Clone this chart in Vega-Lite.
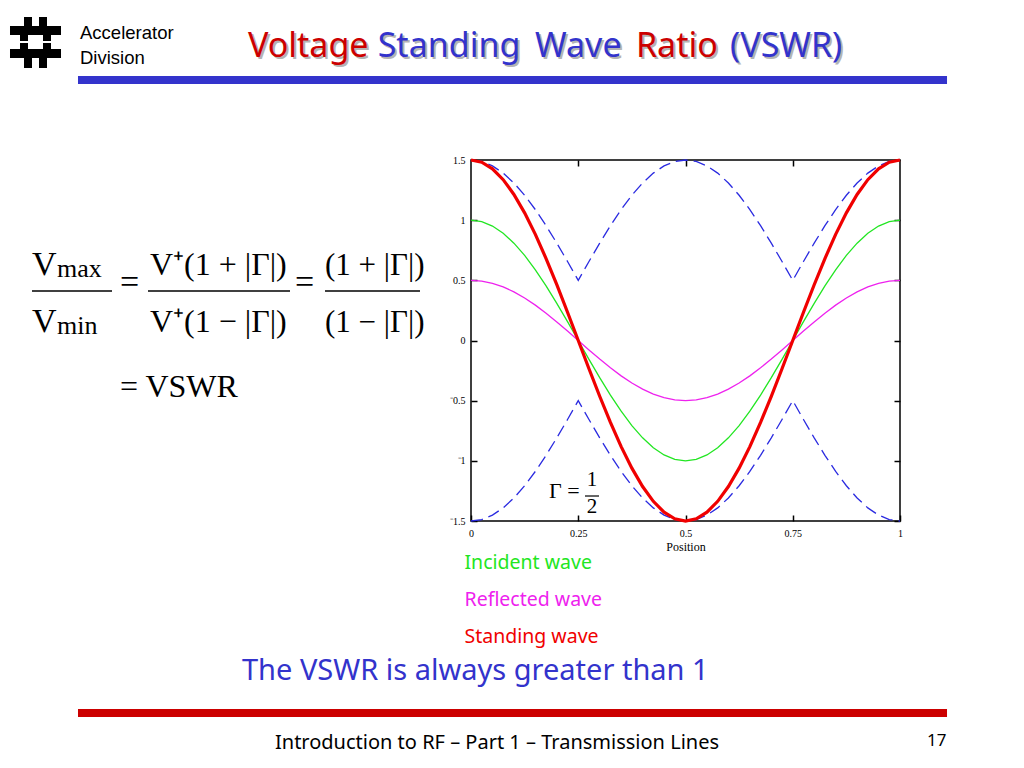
{
  "$schema": "https://vega.github.io/schema/vega-lite/v6.json",
  "autosize": {"type": "none"},
  "width": 429,
  "height": 361,
  "padding": {"left": 471, "top": 160, "right": 124, "bottom": 247},
  "background": "white",
  "config": {
    "view": {"stroke": "black", "strokeWidth": 1.5},
    "axis": {"grid": false, "domain": false}
  },
  "datasets": {
    "one": [{}],
    "waves": [
      {"x": 0, "inc": 1, "ref": 0.5, "sta": 1.5, "up": 1.5, "lo": -1.5},
      {"x": 0.025, "inc": 0.9877, "ref": 0.4938, "sta": 1.4815, "up": 1.4877, "lo": -1.4877},
      {"x": 0.05, "inc": 0.9511, "ref": 0.4755, "sta": 1.4266, "up": 1.4511, "lo": -1.4511},
      {"x": 0.075, "inc": 0.891, "ref": 0.4455, "sta": 1.3365, "up": 1.391, "lo": -1.391},
      {"x": 0.1, "inc": 0.809, "ref": 0.4045, "sta": 1.2135, "up": 1.309, "lo": -1.309},
      {"x": 0.125, "inc": 0.7071, "ref": 0.3536, "sta": 1.0607, "up": 1.2071, "lo": -1.2071},
      {"x": 0.15, "inc": 0.5878, "ref": 0.2939, "sta": 0.8817, "up": 1.0878, "lo": -1.0878},
      {"x": 0.175, "inc": 0.454, "ref": 0.227, "sta": 0.681, "up": 0.954, "lo": -0.954},
      {"x": 0.2, "inc": 0.309, "ref": 0.1545, "sta": 0.4635, "up": 0.809, "lo": -0.809},
      {"x": 0.225, "inc": 0.1564, "ref": 0.0782, "sta": 0.2347, "up": 0.6564, "lo": -0.6564},
      {"x": 0.25, "inc": 0, "ref": 0, "sta": 0, "up": 0.5, "lo": -0.5},
      {"x": 0.275, "inc": -0.1564, "ref": -0.0782, "sta": -0.2347, "up": 0.6564, "lo": -0.6564},
      {"x": 0.3, "inc": -0.309, "ref": -0.1545, "sta": -0.4635, "up": 0.809, "lo": -0.809},
      {"x": 0.325, "inc": -0.454, "ref": -0.227, "sta": -0.681, "up": 0.954, "lo": -0.954},
      {"x": 0.35, "inc": -0.5878, "ref": -0.2939, "sta": -0.8817, "up": 1.0878, "lo": -1.0878},
      {"x": 0.375, "inc": -0.7071, "ref": -0.3536, "sta": -1.0607, "up": 1.2071, "lo": -1.2071},
      {"x": 0.4, "inc": -0.809, "ref": -0.4045, "sta": -1.2135, "up": 1.309, "lo": -1.309},
      {"x": 0.425, "inc": -0.891, "ref": -0.4455, "sta": -1.3365, "up": 1.391, "lo": -1.391},
      {"x": 0.45, "inc": -0.9511, "ref": -0.4755, "sta": -1.4266, "up": 1.4511, "lo": -1.4511},
      {"x": 0.475, "inc": -0.9877, "ref": -0.4938, "sta": -1.4815, "up": 1.4877, "lo": -1.4877},
      {"x": 0.5, "inc": -1, "ref": -0.5, "sta": -1.5, "up": 1.5, "lo": -1.5},
      {"x": 0.525, "inc": -0.9877, "ref": -0.4938, "sta": -1.4815, "up": 1.4877, "lo": -1.4877},
      {"x": 0.55, "inc": -0.9511, "ref": -0.4755, "sta": -1.4266, "up": 1.4511, "lo": -1.4511},
      {"x": 0.575, "inc": -0.891, "ref": -0.4455, "sta": -1.3365, "up": 1.391, "lo": -1.391},
      {"x": 0.6, "inc": -0.809, "ref": -0.4045, "sta": -1.2135, "up": 1.309, "lo": -1.309},
      {"x": 0.625, "inc": -0.7071, "ref": -0.3536, "sta": -1.0607, "up": 1.2071, "lo": -1.2071},
      {"x": 0.65, "inc": -0.5878, "ref": -0.2939, "sta": -0.8817, "up": 1.0878, "lo": -1.0878},
      {"x": 0.675, "inc": -0.454, "ref": -0.227, "sta": -0.681, "up": 0.954, "lo": -0.954},
      {"x": 0.7, "inc": -0.309, "ref": -0.1545, "sta": -0.4635, "up": 0.809, "lo": -0.809},
      {"x": 0.725, "inc": -0.1564, "ref": -0.0782, "sta": -0.2347, "up": 0.6564, "lo": -0.6564},
      {"x": 0.75, "inc": 0, "ref": 0, "sta": 0, "up": 0.5, "lo": -0.5},
      {"x": 0.775, "inc": 0.1564, "ref": 0.0782, "sta": 0.2347, "up": 0.6564, "lo": -0.6564},
      {"x": 0.8, "inc": 0.309, "ref": 0.1545, "sta": 0.4635, "up": 0.809, "lo": -0.809},
      {"x": 0.825, "inc": 0.454, "ref": 0.227, "sta": 0.681, "up": 0.954, "lo": -0.954},
      {"x": 0.85, "inc": 0.5878, "ref": 0.2939, "sta": 0.8817, "up": 1.0878, "lo": -1.0878},
      {"x": 0.875, "inc": 0.7071, "ref": 0.3536, "sta": 1.0607, "up": 1.2071, "lo": -1.2071},
      {"x": 0.9, "inc": 0.809, "ref": 0.4045, "sta": 1.2135, "up": 1.309, "lo": -1.309},
      {"x": 0.925, "inc": 0.891, "ref": 0.4455, "sta": 1.3365, "up": 1.391, "lo": -1.391},
      {"x": 0.95, "inc": 0.9511, "ref": 0.4755, "sta": 1.4266, "up": 1.4511, "lo": -1.4511},
      {"x": 0.975, "inc": 0.9877, "ref": 0.4938, "sta": 1.4815, "up": 1.4877, "lo": -1.4877},
      {"x": 1, "inc": 1, "ref": 0.5, "sta": 1.5, "up": 1.5, "lo": -1.5}
    ]
  },
  "resolve": {"axis": {"x": "independent", "y": "independent"}},
  "layer": [
    {
      "data": {"name": "waves"},
      "layer": [
        {
          "mark": {"type": "line", "color": "#2a2ae0", "strokeWidth": 1.3, "strokeDash": [12, 6]},
          "encoding": {
            "x": {"field": "x", "type": "quantitative",
              "scale": {"domain": [0, 1], "nice": false, "zero": false},
              "axis": {"orient": "bottom", "values": [0, 0.25, 0.5, 0.75, 1], "labelExpr": "'' + datum.value", "title": "Position",
                "labelFont": "Liberation Serif", "labelFontSize": 10, "labelColor": "black", "labelFlush": false,
                "tickSize": -6, "tickColor": "black", "tickWidth": 1.5, "labelPadding": 13,
                "titleFont": "Liberation Serif", "titleFontSize": 12, "titleFontWeight": "normal", "titleColor": "black", "titlePadding": 3}},
            "y": {"field": "up", "type": "quantitative",
              "scale": {"domain": [-1.5, 1.5], "nice": false, "zero": false},
              "axis": {"orient": "left", "values": [-1.5, -1, -0.5, 0, 0.5, 1, 1.5], "title": null,
                "labelExpr": "datum.value < 0 ? '⁻' + (-datum.value) : '' + datum.value",
                "labelFont": "Liberation Serif", "labelFontSize": 10, "labelColor": "black", "labelFlush": false,
                "tickSize": -6, "tickColor": "black", "tickWidth": 1.5, "labelPadding": 12}}
          }
        },
        {
          "mark": {"type": "line", "color": "#2a2ae0", "strokeWidth": 1.3, "strokeDash": [12, 6]},
          "encoding": {
            "x": {"field": "x", "type": "quantitative"},
            "y": {"field": "lo", "type": "quantitative"}
          }
        },
        {
          "mark": {"type": "line", "strokeWidth": 1.3},
          "encoding": {
            "x": {"field": "x", "type": "quantitative"},
            "y": {"field": "inc", "type": "quantitative"},
            "color": {"datum": "Incident wave", "type": "nominal",
              "scale": {"domain": ["Incident wave", "Reflected wave", "Standing wave"], "range": ["#22e622", "#ee22ee", "#f00000"]},
              "legend": {"orient": "none", "legendX": -26, "legendY": 393, "title": null,
                "labelFont": "Noto Sans", "labelFontSize": 19.5, "symbolOpacity": 0, "symbolSize": 1, "symbolStrokeWidth": 0,
                "labelOffset": 0, "rowPadding": 16,
                "encode": {"labels": {"update": {"fill": {"scale": "color", "field": "value"}}}}}}
          }
        },
        {
          "mark": {"type": "line", "strokeWidth": 1.3},
          "encoding": {
            "x": {"field": "x", "type": "quantitative"},
            "y": {"field": "ref", "type": "quantitative"},
            "color": {"datum": "Reflected wave", "type": "nominal"}
          }
        },
        {
          "mark": {"type": "line", "strokeWidth": 3.2},
          "encoding": {
            "x": {"field": "x", "type": "quantitative"},
            "y": {"field": "sta", "type": "quantitative"},
            "color": {"datum": "Standing wave", "type": "nominal"}
          }
        }
      ]
    },
    {
      "data": {"name": "waves"},
      "mark": {"type": "line", "opacity": 0},
      "encoding": {
        "x": {"field": "x", "type": "quantitative",
          "axis": {"orient": "top", "values": [0.25, 0.5, 0.75], "labels": false, "title": null, "tickSize": -6, "tickColor": "black", "tickWidth": 1.5}},
        "y": {"field": "up", "type": "quantitative",
          "axis": {"orient": "right", "values": [-1.5, -1, -0.5, 0, 0.5, 1, 1.5], "labels": false, "title": null, "tickSize": -6, "tickColor": "black", "tickWidth": 1.5}}
      }
    },
    {"data": {"name": "one"}, "mark": {"type": "text", "text": "Γ =", "font": "Liberation Serif", "fontSize": 22, "align": "left", "baseline": "middle", "color": "black"},
      "encoding": {"x": {"datum": 0.1818, "type": "quantitative", "axis": null}, "y": {"datum": -1.2507, "type": "quantitative", "axis": null}}},
    {"data": {"name": "one"}, "mark": {"type": "text", "text": "1", "font": "Liberation Serif", "fontSize": 21, "align": "center", "baseline": "middle", "color": "black"},
      "encoding": {"x": {"datum": 0.2821, "type": "quantitative", "axis": null}, "y": {"datum": -1.1593, "type": "quantitative", "axis": null}}},
    {"data": {"name": "one"}, "mark": {"type": "text", "text": "2", "font": "Liberation Serif", "fontSize": 21, "align": "center", "baseline": "middle", "color": "black"},
      "encoding": {"x": {"datum": 0.2821, "type": "quantitative", "axis": null}, "y": {"datum": -1.3837, "type": "quantitative", "axis": null}}},
    {"data": {"name": "one"}, "mark": {"type": "rule", "color": "black", "strokeWidth": 1.2},
      "encoding": {"x": {"datum": 0.2657, "type": "quantitative", "axis": null}, "x2": {"datum": 0.2984}, "y": {"datum": -1.2923, "type": "quantitative", "axis": null}}},

    {"data": {"name": "one"}, "mark": {"type": "text", "text": "V", "font": "Liberation Serif", "fontSize": 34, "align": "left", "baseline": "alphabetic", "color": "black"},
      "encoding": {"x": {"datum": -1.0233, "type": "quantitative", "axis": null}, "y": {"datum": 0.5443, "type": "quantitative", "axis": null}}},
    {"data": {"name": "one"}, "mark": {"type": "text", "text": "max", "font": "Liberation Serif", "fontSize": 26, "align": "left", "baseline": "alphabetic", "color": "black"},
      "encoding": {"x": {"datum": -0.965, "type": "quantitative", "axis": null}, "y": {"datum": 0.5277, "type": "quantitative", "axis": null}}},
    {"data": {"name": "one"}, "mark": {"type": "rule", "color": "black", "strokeWidth": 1.5},
      "encoding": {"x": {"datum": -1.0233, "type": "quantitative", "axis": null}, "x2": {"datum": -0.8368}, "y": {"datum": 0.4114, "type": "quantitative", "axis": null}}},
    {"data": {"name": "one"}, "mark": {"type": "text", "text": "V", "font": "Liberation Serif", "fontSize": 34, "align": "left", "baseline": "alphabetic", "color": "black"},
      "encoding": {"x": {"datum": -1.0233, "type": "quantitative", "axis": null}, "y": {"datum": 0.0706, "type": "quantitative", "axis": null}}},
    {"data": {"name": "one"}, "mark": {"type": "text", "text": "min", "font": "Liberation Serif", "fontSize": 26, "align": "left", "baseline": "alphabetic", "color": "black"},
      "encoding": {"x": {"datum": -0.965, "type": "quantitative", "axis": null}, "y": {"datum": 0.054, "type": "quantitative", "axis": null}}},
    {"data": {"name": "one"}, "mark": {"type": "text", "text": "=", "font": "Liberation Serif", "fontSize": 34, "align": "left", "baseline": "middle", "color": "black"},
      "encoding": {"x": {"datum": -0.8182, "type": "quantitative", "axis": null}, "y": {"datum": 0.4778, "type": "quantitative", "axis": null}}},
    {"data": {"name": "one"}, "mark": {"type": "text", "text": "V⁺(1 + |Γ|)", "font": "Liberation Serif", "fontSize": 32, "align": "left", "baseline": "alphabetic", "color": "black"},
      "encoding": {"x": {"datum": -0.7483, "type": "quantitative", "axis": null}, "y": {"datum": 0.5443, "type": "quantitative", "axis": null}}},
    {"data": {"name": "one"}, "mark": {"type": "rule", "color": "black", "strokeWidth": 1.5},
      "encoding": {"x": {"datum": -0.7529, "type": "quantitative", "axis": null}, "x2": {"datum": -0.4219}, "y": {"datum": 0.4114, "type": "quantitative", "axis": null}}},
    {"data": {"name": "one"}, "mark": {"type": "text", "text": "V⁺(1 − |Γ|)", "font": "Liberation Serif", "fontSize": 32, "align": "left", "baseline": "alphabetic", "color": "black"},
      "encoding": {"x": {"datum": -0.7483, "type": "quantitative", "axis": null}, "y": {"datum": 0.0706, "type": "quantitative", "axis": null}}},
    {"data": {"name": "one"}, "mark": {"type": "text", "text": "=", "font": "Liberation Serif", "fontSize": 34, "align": "left", "baseline": "middle", "color": "black"},
      "encoding": {"x": {"datum": -0.4103, "type": "quantitative", "axis": null}, "y": {"datum": 0.4778, "type": "quantitative", "axis": null}}},
    {"data": {"name": "one"}, "mark": {"type": "text", "text": "(1 + |Γ|)", "font": "Liberation Serif", "fontSize": 31, "align": "left", "baseline": "alphabetic", "color": "black"},
      "encoding": {"x": {"datum": -0.3403, "type": "quantitative", "axis": null}, "y": {"datum": 0.5443, "type": "quantitative", "axis": null}}},
    {"data": {"name": "one"}, "mark": {"type": "rule", "color": "black", "strokeWidth": 1.5},
      "encoding": {"x": {"datum": -0.3403, "type": "quantitative", "axis": null}, "x2": {"datum": -0.1189}, "y": {"datum": 0.4114, "type": "quantitative", "axis": null}}},
    {"data": {"name": "one"}, "mark": {"type": "text", "text": "(1 − |Γ|)", "font": "Liberation Serif", "fontSize": 31, "align": "left", "baseline": "alphabetic", "color": "black"},
      "encoding": {"x": {"datum": -0.3403, "type": "quantitative", "axis": null}, "y": {"datum": 0.0706, "type": "quantitative", "axis": null}}},
    {"data": {"name": "one"}, "mark": {"type": "text", "text": "= VSWR", "font": "Liberation Serif", "fontSize": 32, "align": "left", "baseline": "alphabetic", "color": "black"},
      "encoding": {"x": {"datum": -0.8182, "type": "quantitative", "axis": null}, "y": {"datum": -0.4695, "type": "quantitative", "axis": null}}},

    {"data": {"name": "one"}, "mark": {"type": "rect", "color": "#3333cc"},
      "encoding": {"x": {"datum": -0.9161, "type": "quantitative", "axis": null}, "x2": {"datum": 1.1096}, "y": {"datum": 2.1981, "type": "quantitative", "axis": null}, "y2": {"datum": 2.1316}}},
    {"data": {"name": "one"}, "mark": {"type": "rect", "color": "#cc0000"},
      "encoding": {"x": {"datum": -0.9161, "type": "quantitative", "axis": null}, "x2": {"datum": 1.1096}, "y": {"datum": -3.0623, "type": "quantitative", "axis": null}, "y2": {"datum": -3.1288}}},

    {"data": {"name": "one"}, "mark": {"type": "rect", "color": "black"},
      "encoding": {"x": {"datum": -1.042, "type": "quantitative", "axis": null}, "x2": {"datum": -1.0233}, "y": {"datum": 2.6884, "type": "quantitative", "axis": null}, "y2": {"datum": 2.6136}}},
    {"data": {"name": "one"}, "mark": {"type": "rect", "color": "black"},
      "encoding": {"x": {"datum": -1.007, "type": "quantitative", "axis": null}, "x2": {"datum": -0.9883}, "y": {"datum": 2.6884, "type": "quantitative", "axis": null}, "y2": {"datum": 2.6136}}},
    {"data": {"name": "one"}, "mark": {"type": "rect", "color": "black"},
      "encoding": {"x": {"datum": -1.0746, "type": "quantitative", "axis": null}, "x2": {"datum": -0.9557}, "y": {"datum": 2.6136, "type": "quantitative", "axis": null}, "y2": {"datum": 2.5388}}},
    {"data": {"name": "one"}, "mark": {"type": "rect", "color": "black"},
      "encoding": {"x": {"datum": -1.0513, "type": "quantitative", "axis": null}, "x2": {"datum": -1.0326}, "y": {"datum": 2.5388, "type": "quantitative", "axis": null}, "y2": {"datum": 2.4889}}},
    {"data": {"name": "one"}, "mark": {"type": "rect", "color": "black"},
      "encoding": {"x": {"datum": -0.9977, "type": "quantitative", "axis": null}, "x2": {"datum": -0.979}, "y": {"datum": 2.5388, "type": "quantitative", "axis": null}, "y2": {"datum": 2.4889}}},
    {"data": {"name": "one"}, "mark": {"type": "rect", "color": "black"},
      "encoding": {"x": {"datum": -1.0513, "type": "quantitative", "axis": null}, "x2": {"datum": -1.0326}, "y": {"datum": 2.4723, "type": "quantitative", "axis": null}, "y2": {"datum": 2.4224}}},
    {"data": {"name": "one"}, "mark": {"type": "rect", "color": "black"},
      "encoding": {"x": {"datum": -0.9977, "type": "quantitative", "axis": null}, "x2": {"datum": -0.979}, "y": {"datum": 2.4723, "type": "quantitative", "axis": null}, "y2": {"datum": 2.4224}}},
    {"data": {"name": "one"}, "mark": {"type": "rect", "color": "black"},
      "encoding": {"x": {"datum": -1.0746, "type": "quantitative", "axis": null}, "x2": {"datum": -0.9557}, "y": {"datum": 2.4224, "type": "quantitative", "axis": null}, "y2": {"datum": 2.3477}}},
    {"data": {"name": "one"}, "mark": {"type": "rect", "color": "black"},
      "encoding": {"x": {"datum": -1.042, "type": "quantitative", "axis": null}, "x2": {"datum": -1.0233}, "y": {"datum": 2.3477, "type": "quantitative", "axis": null}, "y2": {"datum": 2.2645}}},
    {"data": {"name": "one"}, "mark": {"type": "rect", "color": "black"},
      "encoding": {"x": {"datum": -1.007, "type": "quantitative", "axis": null}, "x2": {"datum": -0.9883}, "y": {"datum": 2.3477, "type": "quantitative", "axis": null}, "y2": {"datum": 2.2645}}},

    {"data": {"name": "one"}, "mark": {"type": "text", "text": "Accelerator", "font": "Liberation Sans", "fontSize": 18.5, "align": "left", "baseline": "middle", "color": "black"},
      "encoding": {"x": {"datum": -0.9114, "type": "quantitative", "axis": null}, "y": {"datum": 2.5554, "type": "quantitative", "axis": null}}},
    {"data": {"name": "one"}, "mark": {"type": "text", "text": "Division", "font": "Liberation Sans", "fontSize": 18.5, "align": "left", "baseline": "middle", "color": "black"},
      "encoding": {"x": {"datum": -0.9114, "type": "quantitative", "axis": null}, "y": {"datum": 2.3477, "type": "quantitative", "axis": null}}},

    {"data": {"name": "one"}, "mark": {"type": "text", "text": "Voltage", "font": "Noto Sans", "fontSize": 34, "align": "left", "baseline": "middle", "color": "#b4b4b4", "dx": 2, "dy": 2},
      "encoding": {"x": {"datum": -0.5198, "type": "quantitative", "axis": null}, "y": {"datum": 2.4391, "type": "quantitative", "axis": null}}},
    {"data": {"name": "one"}, "mark": {"type": "text", "text": "Standing", "font": "Noto Sans", "fontSize": 34, "align": "left", "baseline": "middle", "color": "#b4b4b4", "dx": 2, "dy": 2},
      "encoding": {"x": {"datum": -0.2175, "type": "quantitative", "axis": null}, "y": {"datum": 2.4391, "type": "quantitative", "axis": null}}},
    {"data": {"name": "one"}, "mark": {"type": "text", "text": "Wave", "font": "Noto Sans", "fontSize": 34, "align": "left", "baseline": "middle", "color": "#b4b4b4", "dx": 2, "dy": 2},
      "encoding": {"x": {"datum": 0.1494, "type": "quantitative", "axis": null}, "y": {"datum": 2.4391, "type": "quantitative", "axis": null}}},
    {"data": {"name": "one"}, "mark": {"type": "text", "text": "Ratio", "font": "Noto Sans", "fontSize": 34, "align": "left", "baseline": "middle", "color": "#b4b4b4", "dx": 2, "dy": 2},
      "encoding": {"x": {"datum": 0.3844, "type": "quantitative", "axis": null}, "y": {"datum": 2.4391, "type": "quantitative", "axis": null}}},
    {"data": {"name": "one"}, "mark": {"type": "text", "text": "(VSWR)", "font": "Noto Sans", "fontSize": 34, "align": "left", "baseline": "middle", "color": "#b4b4b4", "dx": 2, "dy": 2},
      "encoding": {"x": {"datum": 0.6039, "type": "quantitative", "axis": null}, "y": {"datum": 2.4391, "type": "quantitative", "axis": null}}},
    {"data": {"name": "one"}, "mark": {"type": "text", "text": "Voltage", "font": "Noto Sans", "fontSize": 34, "align": "left", "baseline": "middle", "color": "#cc0000"},
      "encoding": {"x": {"datum": -0.5198, "type": "quantitative", "axis": null}, "y": {"datum": 2.4391, "type": "quantitative", "axis": null}}},
    {"data": {"name": "one"}, "mark": {"type": "text", "text": "Standing", "font": "Noto Sans", "fontSize": 34, "align": "left", "baseline": "middle", "color": "#3333cc"},
      "encoding": {"x": {"datum": -0.2175, "type": "quantitative", "axis": null}, "y": {"datum": 2.4391, "type": "quantitative", "axis": null}}},
    {"data": {"name": "one"}, "mark": {"type": "text", "text": "Wave", "font": "Noto Sans", "fontSize": 34, "align": "left", "baseline": "middle", "color": "#3333cc"},
      "encoding": {"x": {"datum": 0.1494, "type": "quantitative", "axis": null}, "y": {"datum": 2.4391, "type": "quantitative", "axis": null}}},
    {"data": {"name": "one"}, "mark": {"type": "text", "text": "Ratio", "font": "Noto Sans", "fontSize": 34, "align": "left", "baseline": "middle", "color": "#cc0000"},
      "encoding": {"x": {"datum": 0.3844, "type": "quantitative", "axis": null}, "y": {"datum": 2.4391, "type": "quantitative", "axis": null}}},
    {"data": {"name": "one"}, "mark": {"type": "text", "text": "(VSWR)", "font": "Noto Sans", "fontSize": 34, "align": "left", "baseline": "middle", "color": "#3333cc"},
      "encoding": {"x": {"datum": 0.6039, "type": "quantitative", "axis": null}, "y": {"datum": 2.4391, "type": "quantitative", "axis": null}}},

    {"data": {"name": "one"}, "mark": {"type": "text", "text": "The VSWR is always greater than 1", "font": "Noto Sans", "fontSize": 29, "align": "left", "baseline": "middle", "color": "#3333cc"},
      "encoding": {"x": {"datum": -0.5338, "type": "quantitative", "axis": null}, "y": {"datum": -2.7466, "type": "quantitative", "axis": null}}},
    {"data": {"name": "one"}, "mark": {"type": "text", "text": "Introduction to RF – Part 1 – Transmission Lines", "font": "Noto Sans", "fontSize": 20, "align": "left", "baseline": "middle", "color": "black"},
      "encoding": {"x": {"datum": -0.4569, "type": "quantitative", "axis": null}, "y": {"datum": -3.3449, "type": "quantitative", "axis": null}}},
    {"data": {"name": "one"}, "mark": {"type": "text", "text": "17", "font": "Noto Sans", "fontSize": 17, "align": "left", "baseline": "middle", "color": "black"},
      "encoding": {"x": {"datum": 1.0629, "type": "quantitative", "axis": null}, "y": {"datum": -3.3283, "type": "quantitative", "axis": null}}}
  ]
}
